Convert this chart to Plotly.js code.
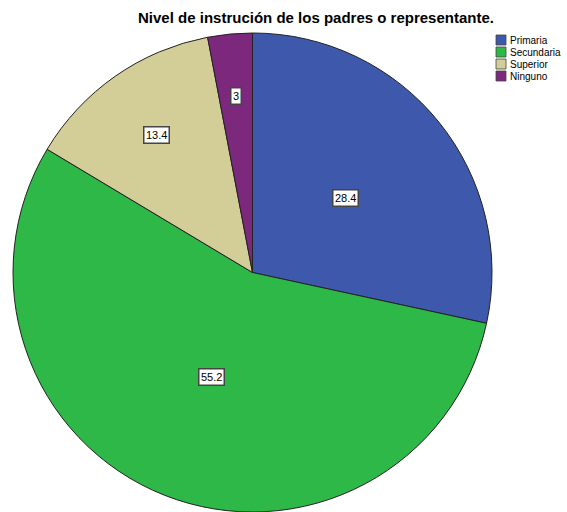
<!DOCTYPE html>
<html>
<head>
<meta charset="utf-8">
<script src="https://cdn.plot.ly/plotly-3.0.1.min.js"></script>
<style>html,body{margin:0;padding:0;background:#fff;}#chart{width:567px;height:512px;}</style>
</head>
<body>
<div id="chart"></div>
<script>
const categories = ["Primaria", "Secundaria", "Superior", "Ninguno"];
const values = [28.4, 55.2, 13.4, 3.0];
const valueLabels = ["28.4", "55.2", "13.4", "3"];
const colors = ["#3E58AC", "#2EB848", "#D3CE97", "#7C287D"];

const W = 567, H = 512;
const cx = 252.5, cy = 273, R = 240;
const labelFrac = [0.5, 0.465, 0.70, 0.74];

const total = values.reduce((a, b) => a + b, 0);
const annotations = [];
let cum = 0;
values.forEach((v, i) => {
  const mid = (cum + v / 2) / total * 2 * Math.PI;
  cum += v;
  const r = R * labelFrac[i];
  const px = cx + r * Math.sin(mid);
  const py = cy - r * Math.cos(mid);
  annotations.push({
    x: px / W, y: 1 - py / H, xref: "paper", yref: "paper",
    xanchor: "center", yanchor: "middle",
    text: valueLabels[i], showarrow: false,
    font: {family: "Liberation Sans, Arial, sans-serif", size: 11, color: "#000"},
    bgcolor: "#fff", bordercolor: "#444", borderwidth: 1.5, borderpad: 1.5
  });
});

// custom compact legend
const shapes = [];
categories.forEach((c, i) => {
  const y0 = 35 + i * 12;
  shapes.push({type: "rect", xref: "paper", yref: "paper",
    x0: 496 / W, x1: 506 / W, y0: 1 - (y0 + 10) / H, y1: 1 - y0 / H,
    fillcolor: colors[i], line: {color: "#444", width: 0.8}});
  annotations.push({x: 508 / W, y: 1 - (y0 + 5) / H, xref: "paper", yref: "paper",
    xanchor: "left", yanchor: "middle", text: c, showarrow: false,
    font: {family: "Liberation Sans, Arial, sans-serif", size: 10, color: "#000"}});
});

const data = [{
  type: "pie",
  labels: categories,
  values: values,
  sort: false,
  direction: "clockwise",
  rotation: 0,
  textinfo: "none",
  hoverinfo: "label+value",
  marker: {colors: colors, line: {color: "#222", width: 1}},
  domain: {x: [(cx - R) / W, (cx + R) / W], y: [1 - (cy + R) / H, 1 - (cy - R) / H]},
  showlegend: false
}];

const layout = {
  width: W, height: H,
  margin: {l: 0, r: 0, t: 0, b: 0},
  paper_bgcolor: "#fff",
  title: {text: "Nivel de instrución de los padres o representante.",
    font: {family: "Liberation Sans, Arial, sans-serif", size: 15, color: "#000", weight: "bold"},
    x: 316 / W, xanchor: "center", y: 1 - 18 / H, yanchor: "middle"},
  showlegend: false,
  annotations: annotations,
  shapes: shapes
};

Plotly.newPlot("chart", data, layout, {displayModeBar: false, staticPlot: true});
</script>
</body>
</html>
